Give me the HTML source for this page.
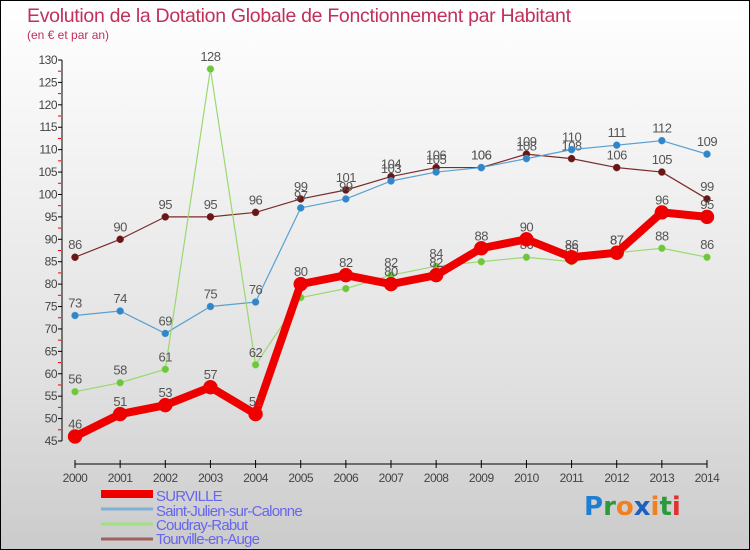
<!DOCTYPE html>
<html><head><meta charset="utf-8"><style>
body{margin:0}
#c{position:relative;width:748px;height:548px;border:1px solid #000;background:linear-gradient(#fff,#f2f2f2 30%,#e0e0e0 70%,#cbcbcb);overflow:hidden;font-family:"Liberation Sans","DejaVu Sans",sans-serif}
</style></head><body>
<div id="c">
<svg id="s" width="748" height="548"></svg>
</div>
<script>
const years=[2000,2001,2002,2003,2004,2005,2006,2007,2008,2009,2010,2011,2012,2013,2014];
const surville=[46,51,53,57,51,80,82,80,82,88,90,86,87,96,95];
const stJulien=[73,74,69,75,76,97,99,103,105,106,108,110,111,112,109];
const coudray=[56,58,61,128,62,77,79,82,84,85,86,85,87,88,86];
const tourville=[86,90,95,95,96,99,101,104,106,106,109,108,106,105,99];
const yTicks=[45,50,55,60,65,70,75,80,85,90,95,100,105,110,115,120,125,130];
const names=["SURVILLE","Saint-Julien-sur-Calonne","Coudray-Rabut","Tourville-en-Auge"];
const s=document.getElementById('s');const NS='http://www.w3.org/2000/svg';
const X=i=>74+i*(706-74)/(years.length-1);
const Y=v=>440-(v-45)*(381/85);
function el(t,a,p){const e=document.createElementNS(NS,t);for(const k in a)e.setAttribute(k,a[k]);(p||s).appendChild(e);return e;}
function tx(x,y,str,a,p){const e=el('text',Object.assign({x:x,y:y},a),p);e.textContent=str;return e;}
let t=tx(26,21,'Evolution de la Dotation Globale de Fonctionnement par Habitant',{'font-size':19.5,fill:'#c0305a','letter-spacing':'-0.3'});

t=tx(26,38,'(en € et par an)',{'font-size':12,fill:'#c0305a'});

let g=el('g',{});
el('line',{x1:61,y1:Y(130),x2:61,y2:Y(45),stroke:'#000'},g);
yTicks.forEach(v=>{el('line',{x1:57,x2:61,y1:Y(v),y2:Y(v),stroke:'#000'},g);
 if(v<130)el('line',{x1:57,x2:60,y1:Y(v+2.5),y2:Y(v+2.5),stroke:'#e00'},g);
 tx(56,Y(v)+4,v,{'font-size':12,fill:'#444','text-anchor':'end','letter-spacing':'-0.5'},g);});
g=el('g',{});
el('line',{x1:X(0),x2:X(14),y1:463,y2:463,stroke:'#000'},g);
years.forEach((y,i)=>{el('line',{x1:X(i),x2:X(i),y1:459,y2:467,stroke:'#000'},g);
 tx(X(i),481,y,{'font-size':12,fill:'#444','text-anchor':'middle','letter-spacing':'-0.5'},g);});
function series(d,col,dot,w,r,nm){const gg=el('g',{});
 el('polyline',{points:d.map((v,i)=>X(i)+','+Y(v)).join(' '),fill:'none',stroke:col,'stroke-width':w,'stroke-linejoin':'round'},gg);
 d.forEach((v,i)=>{el('circle',{cx:X(i),cy:Y(v),r:r,fill:dot,stroke:col,'stroke-width':0.5},gg);
  tx(X(i),Y(v)-8,v,{'font-size':13,fill:'#555','text-anchor':'middle','letter-spacing':'-0.5'},gg);});}
series(tourville,'#7a2b2b','#6a1616',1.2,3.5,'series-tourville');
series(stJulien,'#5aa0d0','#2f86c8',1.2,3.5,'series-saint-julien');
series(coudray,'#9ad870','#6cc83a',1.2,3.5,'series-coudray');
series(surville,'#ee0000','#ee0000',8,7,'series-surville');
const lc=['#ee0000','#80b0d8','#a0e080','#a06060'],lw=[8,3,3,3];
const ly=[493,508,523,538],ty=[500,515,529,543];
names.forEach((n,i)=>{const gg=el('g',{});
 el('line',{x1:100,x2:152,y1:ly[i],y2:ly[i],stroke:lc[i],'stroke-width':lw[i]},gg);
 tx(155,ty[i],n,{'font-size':15,fill:'#6666ee','letter-spacing':'-0.8'},gg);});
const lg=el('g',{});
const lt=el('text',{x:583,y:514,'font-size':26,'font-family':'"DejaVu Sans",sans-serif','font-weight':'bold'},lg);
[['P','#1e7fd0'],['r','#2a9a3a'],['o','#f08020'],['x','#1e60c0'],['i','#f08020'],['t','#2a9a3a'],['i','#e03030']].forEach(([c,col])=>{const ts=el('tspan',{fill:col},lt);ts.textContent=c;});
</script>
</body></html>
